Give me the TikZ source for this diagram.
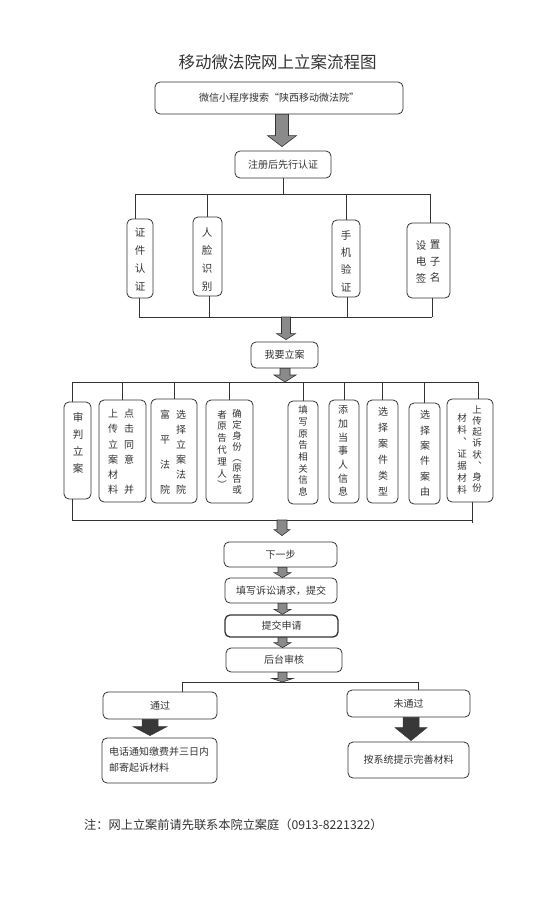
\documentclass[tikz,border=0pt]{standalone}
\usepackage{fontspec}
\setmainfont{Noto Sans CJK SC}
\usetikzlibrary{calc}
\newcommand{\vfs}[2]{\fontsize{#1}{#2}\selectfont}
\newcommand{\fatarrow}[6]{%
  \path[#1] let \p1=#2, \p2=#3 in
    ({\x1-#4pt},\y1) -- ({\x1+#4pt},\y1) -- ({\x1+#4pt},{\y2+#6pt}) -- ({\x1+#5pt},{\y2+#6pt})
    -- (\x1,\y2) -- ({\x1-#5pt},{\y2+#6pt}) -- ({\x1-#4pt},{\y2+#6pt}) -- cycle;}
\definecolor{ink}{HTML}{333333}
\definecolor{arrgray}{HTML}{8A8A8A}
\definecolor{arrdark}{HTML}{383838}
\tikzset{
  box/.style={draw=ink, line width=0.8pt, rounded corners=5pt, fill=white, inner sep=0pt},
  vtxt/.style={align=center, inner sep=0pt, text=ink},
  htxt/.style={font=\vfs{10}{16}, text=ink},
  bus/.style={draw=ink, line width=0.8pt},
  grayarrow/.style={fill=arrgray, draw=ink, line width=0.6pt},
  darkarrow/.style={fill=arrdark, draw=arrdark, line width=0.5pt},
}
\begin{document}
\begin{tikzpicture}[x=1pt,y=-1pt]
\fill[white] (0,0) rectangle (554,897);
\useasboundingbox (0,0) rectangle (554,897);

% title
\node[font=\vfs{16.5}{20}, text=ink] (title) at (277.5,62) {移动微法院网上立案流程图};

% first boxes
\node[box, htxt, minimum width=248pt, minimum height=32pt] (b1) at (279,98) {微信小程序搜索“陕西移动微法院”};
\node[box, htxt, minimum width=96pt, minimum height=27pt] (b2) at (283,164.5) {注册后先行认证};
\fatarrow{grayarrow}{($(b1.south)+(3,0)$)}{($(b2.north)+(0,-4)$)}{6.5}{14.5}{11}

% bus 1
\coordinate (bus1L) at (135,194);
\coordinate (bus1R) at (430,194);
\draw[bus] (b2.south) -- (b2.south |- bus1L);
\draw[bus] (bus1L) -- (bus1R);

% verification boxes
\node[box, minimum width=26pt, minimum height=79pt] (v1) at (140,258.5) {};
\node[box, minimum width=29pt, minimum height=79pt] (v2) at (207.5,256.5) {};
\node[box, minimum width=28pt, minimum height=77pt] (v3) at (346,258.5) {};
\node[box, minimum width=43pt, minimum height=75pt] (v4) at (428.5,260.5) {};
\node[vtxt, font={\vfs{10.5}{17.7}}] (t1) at (140,259.5) {证\\件\\认\\证};
\node[vtxt, font={\vfs{10.5}{18.3}}] (t2) at (207,259.5) {人\\脸\\识\\别};
\node[vtxt, font={\vfs{10.5}{17.3}}] (t3) at (346,261) {手\\机\\验\\证};
\node[vtxt, font={\vfs{10.5}{16.5}}] (t4a) at (421,261.5) {设\\电\\签};
\node[vtxt, font={\vfs{10.5}{16.5}}] (t4b) at (435,261.5) {置\\子\\名};

\draw[bus] (bus1L) -- (bus1L |- v1.north);
\draw[bus] (v2.north) -- (v2.north |- bus1L);
\draw[bus] (v3.north) -- (v3.north |- bus1L);
\draw[bus] (bus1R) -- (bus1R |- v4.north);

% bus 2
\coordinate (bus2L) at (139,317);
\coordinate (bus2R) at (432,317);
\draw[bus] (bus2L |- v1.south) -- (bus2L);
\draw[bus] ($(v2.south)+(1.5,0)$) -- ($(v2.south |- bus2L)+(1.5,0)$);
\draw[bus] ($(v3.south)+(1,0)$) -- ($(v3.south |- bus2L)+(1,0)$);
\draw[bus] (bus2R |- v4.south) -- (bus2R);
\draw[bus] (bus2L) -- (bus2R);

% 我要立案
\node[box, htxt, minimum width=67pt, minimum height=26pt] (wy) at (284.5,355) {我要立案};
\fatarrow{grayarrow}{($(wy.north |- bus2L)+(1.5,0)$)}{($(wy.north)+(1.5,-2)$)}{4.5}{9.5}{6}

% bus 3
\coordinate (bus3L) at (72,382);
\coordinate (bus3R) at (478,382);
\draw[bus] (bus3L) -- (bus3R);
\fatarrow{grayarrow}{($(wy.south)+(0.5,0)$)}{($(wy.south |- bus3L)+(0.5,0)$)}{5}{11}{7}

% nine boxes
\node[box, minimum width=27pt, minimum height=97pt] (n1) at (77.5,450.5) {};
\node[box, minimum width=47pt, minimum height=102pt] (n2) at (122.5,451) {};
\node[box, minimum width=46pt, minimum height=104pt] (n3) at (174,451) {};
\node[box, minimum width=47pt, minimum height=103pt] (n4) at (229.5,451.5) {};
\node[box, minimum width=30pt, minimum height=103pt] (n5) at (303,452.5) {};
\node[box, minimum width=30pt, minimum height=103pt] (n6) at (344,451.5) {};
\node[box, minimum width=31pt, minimum height=103pt] (n7) at (382.5,451.5) {};
\node[box, minimum width=31pt, minimum height=101pt] (n8) at (424.5,453.5) {};
\node[box, minimum width=46pt, minimum height=103pt] (n9) at (470,450.5) {};

\node[vtxt, font={\vfs{10.5}{17}}] (s1) at (78,443) {审\\判\\立\\案};
\node[vtxt, font={\vfs{10}{15.2}}] (s2a) at (113,452) {上\\传\\立\\案\\材\\料};
\node[vtxt, font={\vfs{10}{15.2}}] (s2b) at (129,452) {点\\击\\同\\意\\\phantom{意}\\并};
\node[vtxt, font={\vfs{10}{25}}] (s3a) at (165,452.5) {富\\平\\法\\院};
\node[vtxt, font={\vfs{10}{15}}] (s3b) at (181,452.5) {选\\择\\立\\案\\法\\院};
\node[vtxt, font={\vfs{9.5}{11.8}}] (s4a) at (222,449.5) {者\\原\\告\\代\\理\\人\\︶};
\node[vtxt, font={\vfs{9.5}{10.9}}] (s4b) at (237,452) {确\\定\\身\\份\\︵\\原\\告\\或};
\node[vtxt, font={\vfs{9.5}{11.7}}] (s5) at (303,451) {填\\写\\原\\告\\相\\关\\信\\息};
\node[vtxt, font={\vfs{10}{13.7}}] (s6) at (343,451) {添\\加\\当\\事\\人\\信\\息};
\node[vtxt, font={\vfs{10}{16}}] (s7) at (383,452) {选\\择\\案\\件\\类\\型};
\node[vtxt, font={\vfs{10}{15.4}}] (s8) at (425,453.5) {选\\择\\案\\件\\案\\由};
\node[vtxt, font={\vfs{9.5}{12}}] (s9a) at (462,454) {材\\料\\︑\\证\\据\\材\\料};
\node[vtxt, font={\vfs{9.5}{11.1}}] (s9b) at (477,449) {上\\传\\起\\诉\\状\\︑\\身\\份};

\draw[bus] (bus3L) -- (bus3L |- n1.north);
\foreach \n in {n2,n3,n4,n5,n6,n7,n8}{
  \draw[bus] (\n.north) -- (\n.north |- bus3L);
}
\draw[bus] (bus3R) -- (bus3R |- n9.north);

% bus 4
\coordinate (bus4L) at (72,520);
\coordinate (bus4R) at (472,520);
\draw[bus] (bus4L |- n1.south) -- (bus4L);
\draw[bus] (bus4R |- n9.south) -- ($(bus4R)+(0,3)$);
\draw[bus] (bus4L) -- (bus4R);

% sequence
\node[box, htxt, minimum width=113pt, minimum height=25pt] (nx) at (280.5,554.5) {下一步};
\node[box, htxt, minimum width=112pt, minimum height=25pt] (fill) at (281,590.5) {填写诉讼请求，提交};
\node[box, htxt, minimum width=113pt, minimum height=22pt, line width=1.3pt] (sub) at (281.5,626) {提交申请};
\node[box, htxt, minimum width=116pt, minimum height=24pt] (rev) at (284,660) {后台审核};

\fatarrow{grayarrow}{($(nx.north |- bus4L)+(1.5,0)$)}{($(nx.north)+(1.5,-6)$)}{5}{8}{6}
\fatarrow{grayarrow}{($(nx.south)+(2,0)$)}{($(fill.north)+(2,0)$)}{4.5}{8.5}{5}
\fatarrow{grayarrow}{($(fill.south)+(1.5,0)$)}{($(sub.north)+(1,0)$)}{4.5}{8.5}{5}
\fatarrow{grayarrow}{($(sub.south)+(1,0)$)}{($(rev.north)+(-1.5,0)$)}{4.5}{8.5}{5}

% bus 5
\coordinate (bus5L) at (182,682);
\coordinate (bus5R) at (418,682);
\draw[bus] (bus5L) -- (bus5R);
\fatarrow{grayarrow}{($(rev.south)+(-1.5,0)$)}{($(rev.south |- bus5L)+(-1.5,0)$)}{4.5}{10.5}{3.5}

% results
\node[box, htxt, minimum width=114pt, minimum height=27pt] (pass) at (160,705.5) {通过};
\node[box, htxt, minimum width=123pt, minimum height=27pt] (fail) at (408.5,703.5) {未通过};
\draw[bus] (bus5L) -- (bus5L |- pass.north);
\draw[bus] (bus5R) -- (bus5R |- fail.north);

\node[box, minimum width=115pt, minimum height=45pt] (ph) at (159.5,760.5) {};
\node[htxt, align=left, inner sep=0pt] (phtxt) at (159,760) {电话通知缴费并三日内\\邮寄起诉材料};
\node[box, htxt, minimum width=121pt, minimum height=36pt] (fx) at (408.5,760) {按系统提示完善材料};

\fatarrow{darkarrow}{($(pass.south)+(-10,0)$)}{($(ph.north)+(-10,-2)$)}{8}{17}{9}
\fatarrow{darkarrow}{($(fail.south)+(2.5,0)$)}{($(fx.north)+(2.5,-1)$)}{8}{16}{13}

% note
\node[anchor=west, font=\vfs{12.2}{14}, text=ink, inner sep=0pt] (note) at (84,825) {注：网上立案前请先联系本院立案庭（0913-8221322）};
\end{tikzpicture}
\end{document}
